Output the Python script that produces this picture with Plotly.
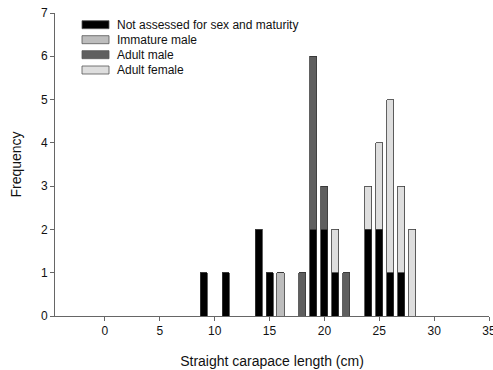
import plotly.graph_objects as go

lengths = [9, 11, 14, 15, 16, 18, 19, 20, 21, 22, 24, 25, 26, 27, 28]
not_assessed = [1, 1, 2, 1, 0, 0, 2, 2, 1, 0, 2, 2, 1, 1, 0]
immature_male = [0, 0, 0, 0, 1, 0, 0, 0, 0, 0, 0, 0, 0, 0, 0]
adult_male = [0, 0, 0, 0, 0, 1, 4, 1, 0, 1, 0, 0, 0, 0, 0]
adult_female = [0, 0, 0, 0, 0, 0, 0, 0, 1, 0, 1, 2, 4, 2, 2]

series_names = ["Not assessed for sex and maturity", "Immature male", "Adult male", "Adult female"]
series_values = [not_assessed, immature_male, adult_male, adult_female]
colors = ["#000000", "#bdbdbd", "#5f5f5f", "#dedede"]

x_ticks = [0, 5, 10, 15, 20, 25, 30, 35]
y_ticks = [0, 1, 2, 3, 4, 5, 6, 7]

FONT = "Liberation Sans, Arial, sans-serif"

fig = go.Figure()
for name, vals, col in zip(series_names, series_values, colors):
    fig.add_trace(go.Bar(
        x=lengths, y=vals, name=name, width=0.64,
        marker=dict(color=col, line=dict(color="#3a3a3a", width=0.8)),
        showlegend=False,
    ))

# manual legend (wide rectangle swatches like the original)
L, R, T, B = 55, 4, 13, 54
W, H = 493, 370
pw, ph = W - L - R, H - T - B
def px(xp):
    return (xp - L) / pw
def py(yp):
    return 1 - (yp - T) / ph

shapes = []
annotations = []
row_y = [24.7, 39.7, 54.7, 70.0]
for name, col, yc in zip(series_names, colors, row_y):
    shapes.append(dict(type="rect", xref="paper", yref="paper",
                       x0=px(82), x1=px(109), y0=py(yc + 4), y1=py(yc - 4),
                       fillcolor=col, line=dict(color="#555555", width=0.8)))
    annotations.append(dict(xref="paper", yref="paper", x=px(115), y=py(yc),
                            text=name, showarrow=False, xanchor="left", yanchor="middle",
                            font=dict(family=FONT, size=12, color="#111111")))

fig.update_layout(
    barmode="stack",
    width=W, height=H,
    margin=dict(l=L, r=R, t=T, b=B, autoexpand=False),
    paper_bgcolor="white", plot_bgcolor="white",
    font=dict(family=FONT, size=12, color="#111111"),
    shapes=shapes, annotations=annotations,
    xaxis=dict(range=[-4.55, 35], tickvals=x_ticks, ticks="outside", ticklen=4,
               tickcolor="#666666", showline=True, linecolor="#666666", linewidth=1,
               showgrid=False, zeroline=False, ticklabeloverflow="allow", automargin=False,
               tickfont=dict(size=12, color="#111111"),
               title=dict(text="Straight carapace length (cm)", font=dict(size=14), standoff=18)),
    yaxis=dict(range=[0, 7], tickvals=y_ticks, ticks="outside", ticklen=4,
               tickcolor="#666666", showline=True, linecolor="#666666", linewidth=1,
               showgrid=False, zeroline=False, automargin=False,
               tickfont=dict(size=12, color="#111111"),
               title=dict(text="Frequency", font=dict(size=14), standoff=16)),
)

fig.write_html("out.html")
